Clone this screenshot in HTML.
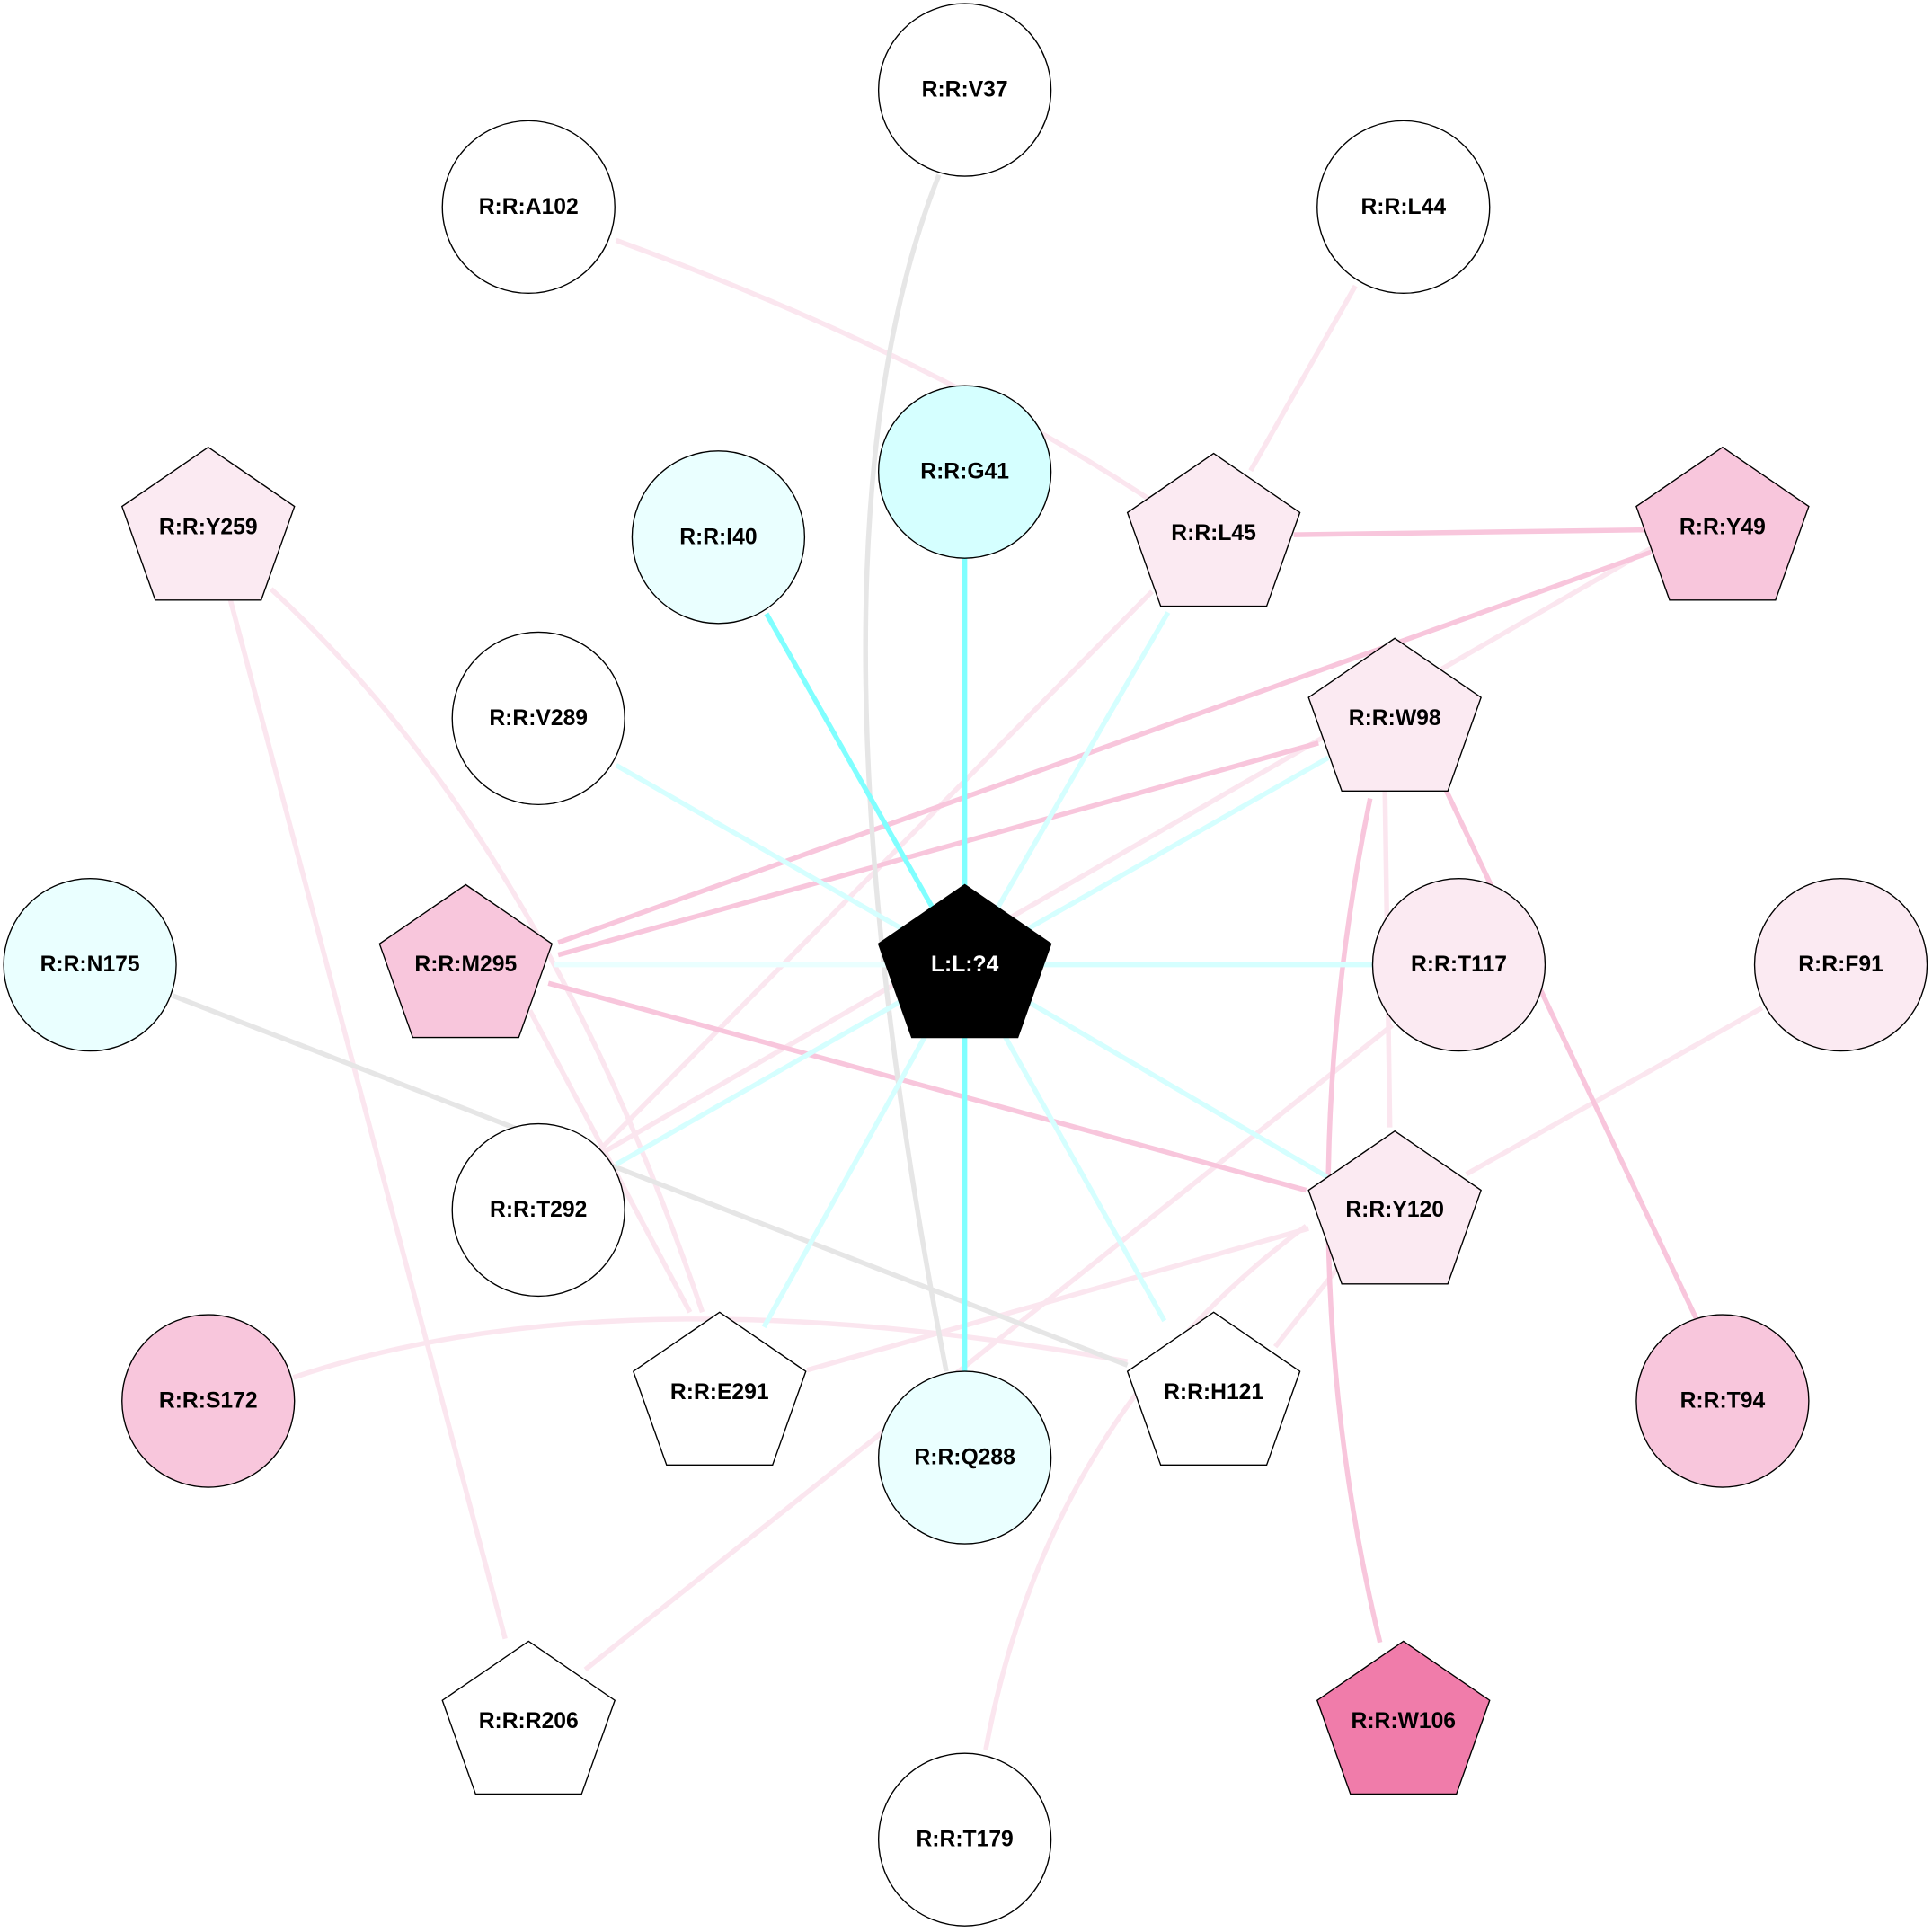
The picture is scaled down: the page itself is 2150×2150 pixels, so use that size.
<!DOCTYPE html>
<html><head><meta charset="utf-8"><style>
html,body{margin:0;padding:0;background:#fff}
svg{display:block}
text{font-family:"Liberation Sans",sans-serif;font-weight:bold;font-size:18px;text-anchor:middle;dominant-baseline:central}
</style></head><body>
<svg width="2150" height="2150" viewBox="0 0 1568 1568" xmlns="http://www.w3.org/2000/svg">
<rect width="1568" height="1568" fill="#fff"/>
<defs>
<polygon id="pent" points="0,-62 70,-14 43,62 -43,62 -70,-14"/>
</defs>
<g fill="none" stroke-width="4">
<g stroke="#fbe6ef">
<path d="M500,195 Q760,290 940,410"/>
<line x1="1100" y1="232" x2="1015" y2="382"/>
<line x1="1340" y1="445" x2="490" y2="935"/>
<line x1="935" y1="480" x2="485" y2="935"/>
<line x1="1124" y1="640" x2="1128" y2="915"/>
<line x1="430" y1="820" x2="560" y2="1065"/>
<path d="M220,478 Q440,680 570,1065"/>
<line x1="187" y1="487" x2="410" y2="1330"/>
<line x1="1130" y1="832" x2="475" y2="1355"/>
<path d="M800,1420 Q850,1150 1060,995"/>
<line x1="1430" y1="818" x2="1190" y2="953"/>
<line x1="1062" y1="997" x2="655" y2="1112"/>
<path d="M238,1118 Q500,1030 915,1105"/>
<line x1="1085" y1="1030" x2="1035" y2="1093"/>
</g>
<g stroke="#f8c6dc">
<line x1="1050" y1="434" x2="1337" y2="430"/>
<line x1="1340" y1="448" x2="453" y2="765"/>
<line x1="1070" y1="603" x2="453" y2="775"/>
<line x1="1173" y1="640" x2="1378" y2="1073"/>
<path d="M1112,648 Q1040,1000 1120,1333"/>
<line x1="445" y1="798" x2="1060" y2="966"/>
</g>
<g stroke="#e6e6e6">
<path d="M762,142 Q640,450 768,1113"/>
<line x1="140" y1="808" x2="915" y2="1108"/>
</g>
<g stroke="#d5ffff">
<line x1="783" y1="783" x2="948" y2="497"/>
<line x1="783" y1="783" x2="1078" y2="615"/>
<line x1="783" y1="783" x2="500" y2="621"/>
<line x1="783" y1="783" x2="1114" y2="783"/>
<line x1="783" y1="783" x2="1077" y2="955"/>
<line x1="783" y1="783" x2="945" y2="1072"/>
<line x1="783" y1="783" x2="620" y2="1077"/>
<line x1="783" y1="783" x2="500" y2="945"/>
</g>
<line x1="783" y1="783" x2="450" y2="783" stroke="#eaffff"/>
<g stroke="#80ffff">
<line x1="622" y1="498" x2="783" y2="783"/>
<line x1="783" y1="453" x2="783" y2="1113"/>
</g>
</g>
<g stroke="#000" stroke-width="1">
<circle cx="783" cy="73" r="70" fill="#fff"/>
<circle cx="429" cy="168" r="70" fill="#fff"/>
<circle cx="1139" cy="168" r="70" fill="#fff"/>
<circle cx="783" cy="383" r="70" fill="#d5ffff"/>
<circle cx="583" cy="436" r="70" fill="#eaffff"/>
<circle cx="437" cy="583" r="70" fill="#fff"/>
<circle cx="73" cy="783" r="70" fill="#eaffff"/>
<circle cx="1184" cy="783" r="70" fill="#fbeaf2"/>
<circle cx="1494" cy="783" r="70" fill="#fbeaf2"/>
<circle cx="437" cy="982" r="70" fill="#fff"/>
<circle cx="169" cy="1137" r="70" fill="#f8c6dc"/>
<circle cx="1398" cy="1137" r="70" fill="#f8c6dc"/>
<circle cx="783" cy="1183" r="70" fill="#eaffff"/>
<circle cx="783" cy="1493" r="70" fill="#fff"/>
<use href="#pent" x="985" y="430" fill="#fbeaf2"/>
<use href="#pent" x="1398" y="425" fill="#f8c6dc"/>
<use href="#pent" x="169" y="425" fill="#fbeaf2"/>
<use href="#pent" x="1132" y="580" fill="#fbeaf2"/>
<use href="#pent" x="378" y="780" fill="#f8c6dc"/>
<use href="#pent" x="783" y="780" fill="#000"/>
<use href="#pent" x="1132" y="980" fill="#fbeaf2"/>
<use href="#pent" x="584" y="1127" fill="#fff"/>
<use href="#pent" x="985" y="1127" fill="#fff"/>
<use href="#pent" x="429" y="1394" fill="#fff"/>
<use href="#pent" x="1139" y="1394" fill="#f07caa"/>
</g>
<g fill="#000">
<text x="783" y="73">R:R:V37</text>
<text x="429" y="168">R:R:A102</text>
<text x="1139" y="168">R:R:L44</text>
<text x="783" y="383">R:R:G41</text>
<text x="583" y="436">R:R:I40</text>
<text x="985" y="433">R:R:L45</text>
<text x="1398" y="428">R:R:Y49</text>
<text x="169" y="428">R:R:Y259</text>
<text x="437" y="583">R:R:V289</text>
<text x="1132" y="583">R:R:W98</text>
<text x="73" y="783">R:R:N175</text>
<text x="378" y="783">R:R:M295</text>
<text x="783" y="783" fill="#fff">L:L:?4</text>
<text x="1184" y="783">R:R:T117</text>
<text x="1494" y="783">R:R:F91</text>
<text x="437" y="982">R:R:T292</text>
<text x="1132" y="982">R:R:Y120</text>
<text x="169" y="1137">R:R:S172</text>
<text x="584" y="1130">R:R:E291</text>
<text x="985" y="1130">R:R:H121</text>
<text x="1398" y="1137">R:R:T94</text>
<text x="783" y="1183">R:R:Q288</text>
<text x="429" y="1397">R:R:R206</text>
<text x="1139" y="1397">R:R:W106</text>
<text x="783" y="1493">R:R:T179</text>
</g>
</svg>
</body></html>
